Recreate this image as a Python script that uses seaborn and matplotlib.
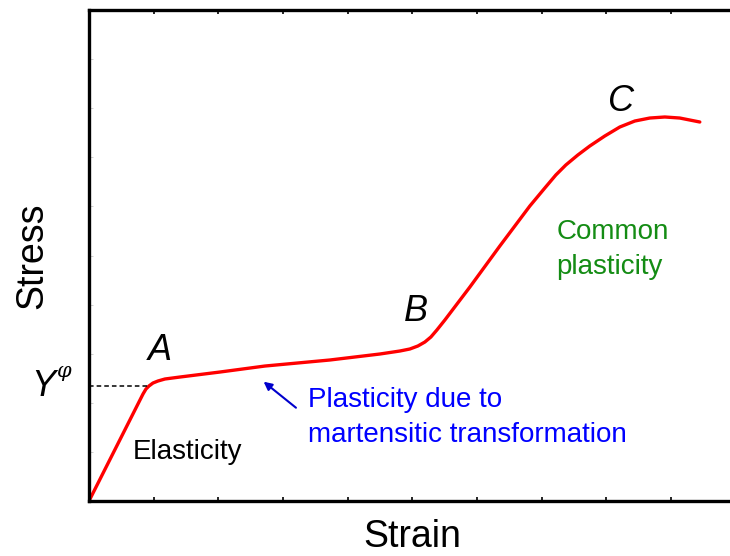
import matplotlib
matplotlib.use("Agg")
import matplotlib.pyplot as plt
import seaborn as sns
import pandas as pd

# Stress-strain curve (arbitrary units)
strain = [0.000, 0.835, 0.881, 0.927, 0.989, 1.066, 1.175, 1.406, 2.025,
          2.720, 3.725, 4.498, 4.807, 4.961, 5.085, 5.193, 5.286, 5.379,
          5.502, 5.889, 6.352, 6.816, 7.048, 7.218, 7.372, 7.558, 7.743,
          7.975, 8.207, 8.439, 8.671, 8.903, 9.134, 9.444]
stress = [0.000, 2.179, 2.281, 2.342, 2.403, 2.444, 2.485, 2.525, 2.627,
          2.749, 2.872, 2.994, 3.055, 3.096, 3.157, 3.238, 3.340, 3.483,
          3.686, 4.358, 5.193, 6.008, 6.375, 6.640, 6.843, 7.047, 7.230,
          7.434, 7.617, 7.739, 7.800, 7.821, 7.800, 7.719]

yield_stress = 2.34
yield_strain = 0.92

point_labels = ["A", "B", "C"]
point_pos = [(1.10, 3.06), (5.05, 3.86), (8.22, 8.14)]

df = pd.DataFrame({"Strain": strain, "Stress": stress})

sns.set_theme(style="white")
plt.rcParams["font.family"] = ["Liberation Sans", "DejaVu Sans"]

fig = plt.figure(figsize=(7.30, 5.56), dpi=100)
ax = fig.add_axes([0.1219, 0.0989, 0.886, 0.8831])

sns.lineplot(data=df, x="Strain", y="Stress", sort=False, estimator=None,
             color="#ff0000", linewidth=2.4, ax=ax,
             solid_joinstyle="round", solid_capstyle="round")

# yield level marker
ax.plot([0, yield_strain], [yield_stress, yield_stress], color="black",
        linestyle=(0, (3, 2)), linewidth=1.1)

ax.set_xlim(0, 10)
ax.set_ylim(0, 10)
ax.set_xticks(range(0, 11))
ax.set_yticks(range(0, 11))
ax.tick_params(axis="x", direction="in", length=3, width=1.2, top=True,
               bottom=True, labelbottom=False, color="black")
ax.tick_params(axis="y", direction="in", length=3, width=0.6, left=True,
               right=False, labelleft=False, color="#c8c8c8")
for side in ("left", "top", "bottom", "right"):
    ax.spines[side].set_linewidth(2.4)
    ax.spines[side].set_color("black")

ax.set_xlabel("Strain", fontsize=27, labelpad=13, color="black")
ax.set_ylabel("Stress", fontsize=27, labelpad=28, color="black")

for lab, (px, py) in zip(point_labels, point_pos):
    ax.text(px, py, lab, fontsize=26, style="italic", ha="center",
            va="center", color="black")

# yield stress symbol
ax.text(-0.71, yield_stress, "Y", fontsize=26, style="italic", ha="center",
        va="center", color="black", clip_on=False)
ax.text(-0.49, yield_stress + 0.30, "φ", fontsize=15, style="italic",
        family=["DejaVu Serif"], ha="left", va="center", color="black",
        clip_on=False)

ax.text(0.68, 0.99, "Elasticity", fontsize=20, ha="left", va="center",
        color="black")
ax.text(3.38, 1.70, "Plasticity due to\nmartensitic transformation",
        fontsize=20, ha="left", va="center", color="#0000ff",
        linespacing=1.42)
ax.text(7.23, 5.12, "Common\nplasticity", fontsize=20, ha="left",
        va="center", color="#148c14", linespacing=1.42)

ax.annotate("", xy=(2.70, 2.43), xytext=(3.20, 1.90),
            arrowprops=dict(arrowstyle="-|>", color="#0000cc", lw=1.5,
                            mutation_scale=12, shrinkA=0, shrinkB=0))

fig.savefig("out.png", dpi=100)
